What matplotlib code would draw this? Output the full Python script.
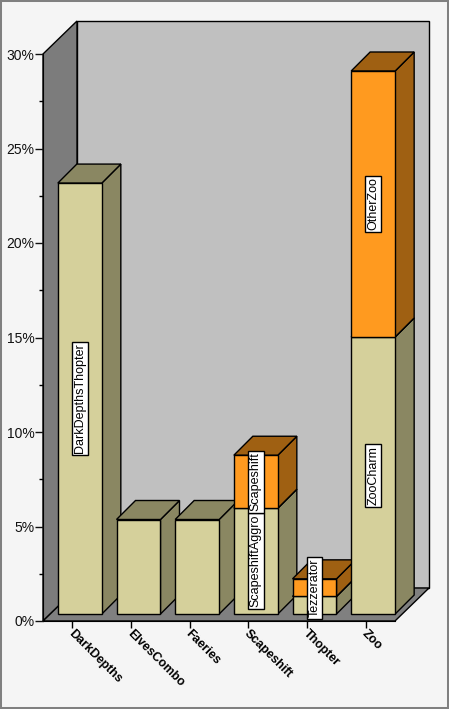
import matplotlib
matplotlib.use("Agg")
import matplotlib.pyplot as plt
from matplotlib.patches import Polygon, Rectangle
from matplotlib.ticker import MultipleLocator, FuncFormatter
from matplotlib.transforms import ScaledTranslation

plt.rcParams['font.family'] = ['Liberation Sans', 'DejaVu Sans']

categories = ['DarkDepths', 'ElvesCombo', 'Faeries', 'Scapeshift', 'Thopter', 'Zoo']
lower_values = [22.8, 5.0, 5.0, 5.6, 0.93, 14.66]
upper_values = [0, 0, 0, 2.8, 0.93, 14.07]
lower_labels = ['DarkDepthsThopter', '', '', 'ScapeshiftAggro', '', 'ZooCharm']
upper_labels = ['', '', '', 'Scapeshift', 'Tezzerator', 'OtherZoo']

W, H = 449, 709
# oblique projection, in data units
DEPTH_X = 34 / 58.67
DEPTH_Y = 33 / 18.9
BAR_W = 44 / 58.67
BAR_DX = 19 / 58.67
BAR_DY = 19 / 18.9

FRONT = {'tan': '#d5d09b', 'orange': '#ff9a1f'}
SHADE = {'tan': '#8a8762', 'orange': '#9f6012'}

fig = plt.figure(figsize=(W / 100, H / 100), dpi=100, facecolor='#f5f5f5')
fig.add_artist(Rectangle((0, 0), 1, 1, transform=fig.transFigure, fill=False,
                         edgecolor='#808080', linewidth=2.9))
ax = fig.add_axes([43 / W, (H - 621) / H, 352 / W, 567 / H])
ax.set_xlim(0, 6)
ax.set_ylim(0, 30)
ax.patch.set_visible(False)


def poly(points, color, z):
    ax.add_patch(Polygon(points, closed=True, facecolor=color, edgecolor='black',
                         linewidth=1, clip_on=False, zorder=z, joinstyle='miter'))


# walls and floor
poly([(DEPTH_X, DEPTH_Y), (6 + DEPTH_X, DEPTH_Y), (6 + DEPTH_X, 30 + DEPTH_Y), (DEPTH_X, 30 + DEPTH_Y)], '#c0c0c0', 1)
poly([(0, 0), (DEPTH_X, DEPTH_Y), (DEPTH_X, 30 + DEPTH_Y), (0, 30)], '#7c7c7c', 1)
poly([(0, 0), (6, 0), (6 + DEPTH_X, DEPTH_Y), (DEPTH_X, DEPTH_Y)], '#808080', 1)


def box(x0, y0, y1, kind, z):
    x1 = x0 + BAR_W
    poly([(x1, y0), (x1 + BAR_DX, y0 + BAR_DY), (x1 + BAR_DX, y1 + BAR_DY), (x1, y1)], SHADE[kind], z)
    poly([(x0, y1), (x1, y1), (x1 + BAR_DX, y1 + BAR_DY), (x0 + BAR_DX, y1 + BAR_DY)], SHADE[kind], z)
    poly([(x0, y0), (x1, y0), (x1, y1), (x0, y1)], FRONT[kind], z)


def tag(x, y, s, z):
    ax.text(x, y, s, rotation=90, ha='center', va='center', fontsize=9.0, color='black',
            clip_on=False, zorder=z,
            bbox=dict(boxstyle='square,pad=0.14', facecolor='white', edgecolor='black', linewidth=1))


base_x = (1 - BAR_W) / 2 + 7.5 / 58.67
base_y = 7 / 18.9
for i, name in enumerate(categories):
    x0 = i + base_x
    y0 = base_y
    y1 = y0 + lower_values[i]
    y2 = y1 + upper_values[i]
    box(x0, y0, y1, 'tan', 2 + i)
    if upper_values[i] > 0:
        box(x0, y1, y2, 'orange', 2 + i)
    cx = x0 + BAR_W / 2
    if lower_labels[i]:
        tag(cx, (y0 + y1) / 2, lower_labels[i], 20)
    if upper_labels[i]:
        tag(cx, (y1 + y2) / 2, upper_labels[i], 21)

# axes
for side in ['top', 'right']:
    ax.spines[side].set_visible(False)
for side in ['left', 'bottom']:
    ax.spines[side].set_zorder(1.5)
ax.yaxis.set_major_locator(MultipleLocator(5))
ax.yaxis.set_minor_locator(MultipleLocator(2.5))
ax.yaxis.set_major_formatter(FuncFormatter(lambda v, p: '%d%%' % v))
ax.tick_params(axis='y', which='major', length=6, width=1, labelsize=10, pad=0, colors='#111111')
ax.tick_params(axis='y', which='minor', length=3, width=1)
ax.set_xticks([i + 0.5 for i in range(len(categories))])
ax.set_xticklabels(categories, rotation=-45, ha='left', va='top', rotation_mode='anchor',
                   fontsize=8.9, fontweight='bold')
ax.tick_params(axis='x', length=5, width=1, pad=0)
# nudge the slanted labels right, they sit under the tick in the original
nudge = ScaledTranslation(2 / 100, 0, fig.dpi_scale_trans)
for label in ax.get_xticklabels():
    label.set_transform(label.get_transform() + nudge)

fig.savefig('out.png', dpi=100, facecolor=fig.get_facecolor())
